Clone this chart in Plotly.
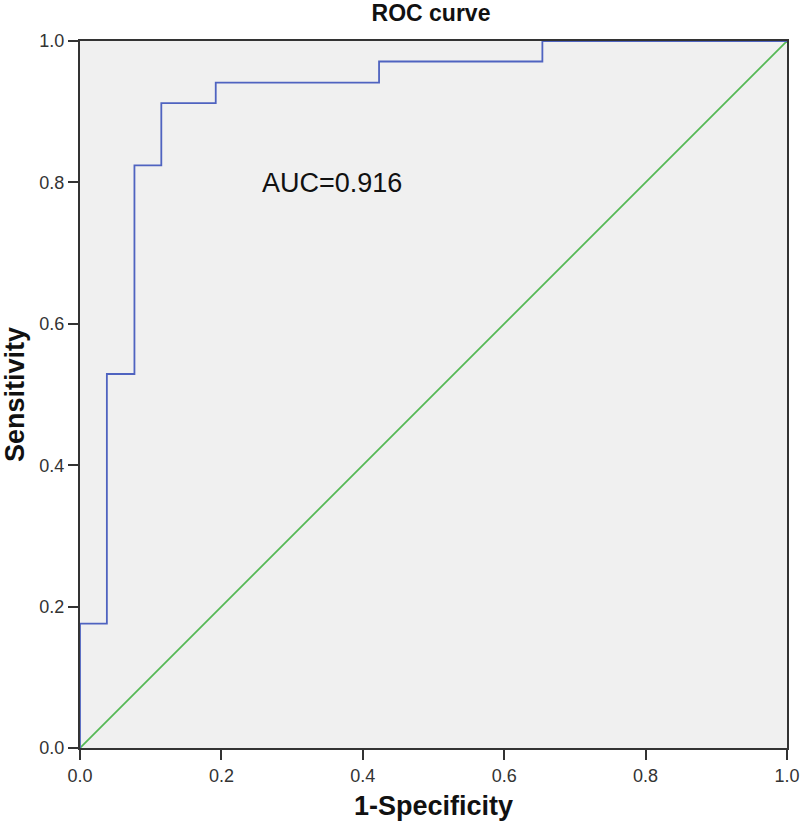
import plotly.graph_objects as go

# ROC curve step points (1-Specificity, Sensitivity)
fpr = [0.0, 0.0, 0.038, 0.077, 0.115, 0.192, 0.423, 0.654, 1.0]
tpr = [0.0, 0.176, 0.529, 0.824, 0.912, 0.941, 0.971, 1.0, 1.0]
ref_x = [0.0, 1.0]
ref_y = [0.0, 1.0]
tick_vals = [0.0, 0.2, 0.4, 0.6, 0.8, 1.0]
tick_text = ["0.0", "0.2", "0.4", "0.6", "0.8", "1.0"]
auc_label = "AUC=0.916"

FONT = "Liberation Sans, Arial"

fig = go.Figure()
fig.add_trace(go.Scatter(x=ref_x, y=ref_y, mode="lines",
                         line=dict(color="#55b955", width=1.8), hoverinfo="skip"))
fig.add_trace(go.Scatter(x=fpr, y=tpr, mode="lines", line_shape="hv",
                         line=dict(color="#4f63c0", width=1.8)))

fig.add_annotation(x=0.2546, y=0.799, xref="x", yref="y", text=auc_label,
                   showarrow=False, xanchor="left", yanchor="middle",
                   font=dict(family=FONT, size=27, color="#111"))

axis_common = dict(range=[0, 1], tickvals=tick_vals, ticktext=tick_text,
                   ticks="outside", ticklen=10, tickwidth=2, tickcolor="#333",
                   showgrid=False, zeroline=False, showline=True, linecolor="#333",
                   linewidth=2, mirror=True, automargin=False,
                   tickfont=dict(family=FONT, size=18, color="#333"))

fig.update_layout(
    width=800, height=823,
    margin=dict(l=80, r=13, t=41, b=75),
    paper_bgcolor="white", plot_bgcolor="#f0f0f0",
    showlegend=False,
    title=dict(text="<b>ROC curve</b>", x=431 / 800, xanchor="center",
               y=1 - 13 / 823, yanchor="middle",
               font=dict(family=FONT, size=23, color="#111")),
    xaxis=dict(axis_common, title=dict(text="<b>1-Specificity</b>", standoff=12,
               font=dict(family=FONT, size=27, color="#111"))),
    yaxis=dict(axis_common, title=dict(text="<b>Sensitivity</b>", standoff=12,
               font=dict(family=FONT, size=27, color="#111"))),
)

fig.write_html("out.html", config={"displayModeBar": False},
               post_script="document.body.style.margin='0';document.body.style.overflow='hidden';")
